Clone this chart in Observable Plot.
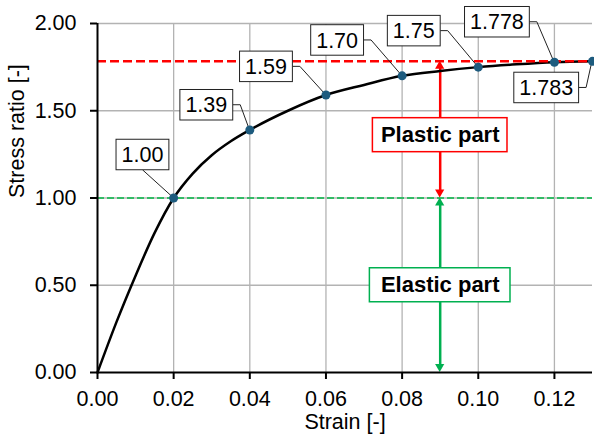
<!DOCTYPE html>
<html>
<head>
<meta charset="utf-8">
<script src="https://cdn.jsdelivr.net/npm/d3@7"></script>
<script src="https://cdn.jsdelivr.net/npm/@observablehq/plot@0.6"></script>
<style>
  html, body { margin: 0; padding: 0; background: #fff; }
  #chart svg g[aria-label$="axis tick"] path { stroke: #000; stroke-width: 2px; }
  #chart svg g[aria-label$="axis"] .tick line { stroke: #000; stroke-width: 2px; }
</style>
</head>
<body>
<div id="chart"></div>
<script>
// ---- data ----
const curveStrain = [0, 0.005, 0.01, 0.015, 0.02, 0.025, 0.03, 0.035, 0.04, 0.05, 0.06, 0.07, 0.08, 0.09, 0.10, 0.11, 0.12, 0.13];
const curveStress = [0, 0.29, 0.555, 0.80, 1.00, 1.14, 1.245, 1.325, 1.39, 1.50, 1.59, 1.648, 1.70, 1.728, 1.75, 1.766, 1.778, 1.783];

const pointStrain = [0.02, 0.04, 0.06, 0.08, 0.10, 0.12, 0.13];
const pointStress = [1.00, 1.39, 1.59, 1.70, 1.75, 1.778, 1.783];
const pointLabels = ["1.00", "1.39", "1.59", "1.70", "1.75", "1.778", "1.783"];

const elasticLimit = [1.00];
const plasticLimit = [1.783];

const partLabels = ["Plastic part", "Elastic part"];
const partFrom = [1.783, 1.00];
const partTo = [1.00, 0.00];
const partLabelAt = [1.36, 0.50];
const partStrain = 0.09;

const xTicks = [0, 0.02, 0.04, 0.06, 0.08, 0.10, 0.12];
const yTicks = [0, 0.5, 1.0, 1.5, 2.0];
const xTitle = "Strain [-]";
const yTitle = "Stress ratio [-]";

// ---- styles / layout ----
const FONT = "'Liberation Sans', Arial, sans-serif";
const RED = "#ff0000", GREEN = "#00b050", GREEN_DASH = "#33bb66", DOT = "#1d5b7e", GRID = "#b3b3b3";
const partColors = [RED, GREEN];
const partPad = [8, 11];
// callout box centre offsets (px) from the point, and leader style
const calloutLayout = [[-30.7, -43, "below"], [-43, -24.7, "side"], [-59.5, -28.2, "side"], [-64.5, -35.4, "side"], [-64, -36, "side"], [-57, -40, "side"], [-45.8, 26.6, "side"]];

const curve = curveStrain.map((x, i) => ({x, y: curveStress[i]}));
const points = pointStrain.map((x, i) => ({x, y: pointStress[i], label: pointLabels[i]}));
const parts = partLabels.map((label, i) => ({label, from: partFrom[i], to: partTo[i], at: partLabelAt[i], i}));

const ctx = document.createElement("canvas").getContext("2d");
function textWidth(t, font) { ctx.font = font; return ctx.measureText(t).width; }
const calloutFont = "21.5px 'Liberation Sans', Arial, sans-serif";
const partFont = "bold 22px 'Liberation Sans', Arial, sans-serif";
const boxH = 30.5;

function calloutGeom(d, i, x, y) {
  const px = x(d.x), py = y(d.y);
  const [ox, oy, kind] = calloutLayout[i];
  const w = textWidth(d.label, calloutFont) + 11;
  return {px, py, cx: px + ox, cy: py + oy, w, kind};
}

const leaders = (index, {x, y}) => {
  const g = d3.create("svg:g");
  points.forEach((d, i) => {
    const c = calloutGeom(d, i, x, y);
    const path = c.kind === "below"
      ? `M${c.cx},${c.cy + boxH / 2}L${c.px},${c.py}`
      : `M${c.cx + c.w / 2},${c.cy}h7.5L${c.px},${c.py}`;
    g.append("path").attr("d", path).attr("fill", "none").attr("stroke", "#222").attr("stroke-width", 1);
  });
  return g.node();
};

const callouts = (index, {x, y}) => {
  const g = d3.create("svg:g");
  points.forEach((d, i) => {
    const c = calloutGeom(d, i, x, y);
    g.append("rect").attr("x", c.cx - c.w / 2).attr("y", c.cy - boxH / 2)
      .attr("width", c.w).attr("height", boxH)
      .attr("fill", "#fff").attr("stroke", "#222").attr("stroke-width", 1);
    g.append("text").attr("x", c.cx).attr("y", c.cy).attr("dy", "0.36em")
      .attr("text-anchor", "middle").attr("font-size", "21.5px").attr("font-family", FONT)
      .attr("fill", "#000").text(d.label);
  });
  return g.node();
};

const arrowHeads = (index, {x, y}) => {
  const g = d3.create("svg:g");
  const hw = 4.6, hl = 8;
  parts.forEach(p => {
    const px = x(partStrain);
    const top = y(p.from), bot = y(p.to);
    g.append("path").attr("d", `M${px},${top}L${px - hw},${top + hl}L${px + hw},${top + hl}Z`).attr("fill", partColors[p.i]);
    g.append("path").attr("d", `M${px},${bot}L${px - hw},${bot - hl}L${px + hw},${bot - hl}Z`).attr("fill", partColors[p.i]);
  });
  return g.node();
};

const partBoxes = (index, {x, y}) => {
  const g = d3.create("svg:g");
  parts.forEach(p => {
    const w = textWidth(p.label, partFont) + 2 * partPad[p.i], h = 34;
    g.append("rect").attr("x", x(partStrain) - w / 2).attr("y", y(p.at) - h / 2)
      .attr("width", w).attr("height", h)
      .attr("fill", "#fff").attr("stroke", partColors[p.i]).attr("stroke-width", 1.5);
  });
  return g.node();
};

const chart = Plot.plot({
  width: 594,
  height: 443,
  marginLeft: 97,
  marginRight: 2,
  marginTop: 23,
  marginBottom: 71,
  style: {fontFamily: FONT, fontSize: "21.5px", color: "#000", background: "#fff", overflow: "visible"},
  x: {domain: [0, 0.13], ticks: xTicks, tickFormat: d3.format(".2f"), tickSize: 7, tickPadding: 11, label: null},
  y: {domain: [0, 2], ticks: yTicks, tickFormat: d3.format(".2f"), tickSize: 7, tickPadding: 14, label: null},
  marks: [
    Plot.ruleX(xTicks.filter(v => v > 0), {stroke: GRID, strokeWidth: 1.3}),
    Plot.ruleY(yTicks.filter(v => v > 0), {stroke: GRID, strokeWidth: 1.3}),
    Plot.ruleY(elasticLimit, {stroke: GREEN_DASH, strokeWidth: 2.2, strokeDasharray: "7,3"}),
    Plot.ruleX(parts, {x: () => partStrain, y1: "from", y2: "to", stroke: (d) => partColors[d.i], strokeWidth: 2.5, insetTop: 6, insetBottom: 6}),
    arrowHeads,
    Plot.line(curve, {x: "x", y: "y", stroke: "#000", strokeWidth: 2.5, curve: "monotone-x"}),
    Plot.ruleY(plasticLimit, {stroke: RED, strokeWidth: 2.5, strokeDasharray: "9,4"}),
    Plot.ruleX([0], {stroke: "#000", strokeWidth: 2}),
    Plot.ruleY([0], {stroke: "#000", strokeWidth: 2}),
    leaders,
    Plot.dot(points, {x: "x", y: "y", r: 4.5, fill: DOT, stroke: "none"}),
    callouts,
    partBoxes,
    Plot.text(parts, {x: () => partStrain, y: "at", text: "label", fontWeight: "bold", fontSize: 22, fill: "#000"}),
    Plot.text([xTitle], {text: d => d, frameAnchor: "bottom", dy: 56, fontSize: 21.5, fill: "#000"}),
    Plot.text([yTitle], {text: d => d, frameAnchor: "left", dx: -80, rotate: -90, fontSize: 21.5, fill: "#000"})
  ]
});
document.getElementById("chart").append(chart);
</script>
</body>
</html>
